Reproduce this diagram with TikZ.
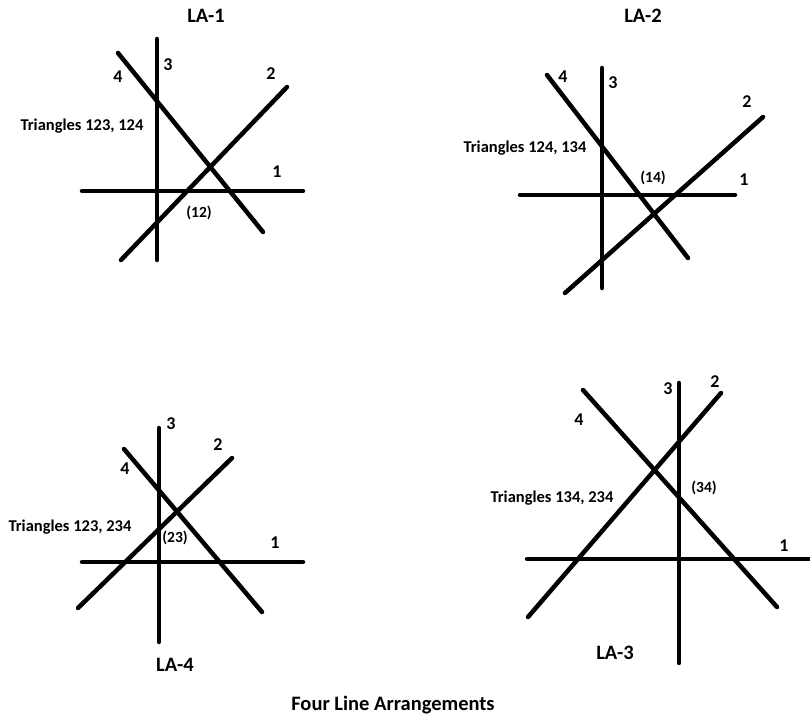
\documentclass[tikz,border=0pt]{standalone}
\usepackage{fontspec}
\setmainfont{Carlito}
\begin{document}
\begin{tikzpicture}[x=1pt,y=-1pt,
  ln/.style={line width=4.5pt,line cap=round},
  num/.style={font=\fontsize{18}{20}\selectfont\bfseries,inner sep=0pt},
  tri/.style={font=\fontsize{16.5}{18}\selectfont\bfseries,inner sep=0pt},
  pt/.style={font=\fontsize{15.5}{17}\selectfont\bfseries,inner sep=0pt},
  ttl/.style={font=\fontsize{20.5}{22}\selectfont\bfseries,inner sep=0pt}]
\useasboundingbox (0,0) rectangle (810,720);
% ---------- LA-1 ----------
\node[ttl] (t1) at (206,16) {LA-1};
\coordinate (a3s) at (157,39); \coordinate (a3e) at (157,260);
\coordinate (a4s) at (118,53); \coordinate (a4e) at (263,232);
\coordinate (a2s) at (121,260); \coordinate (a2e) at (287,87);
\coordinate (a1s) at (82,191); \coordinate (a1e) at (303,191);
\draw[ln] (a3s) -- (a3e);
\draw[ln] (a4s) -- (a4e);
\draw[ln] (a2s) -- (a2e);
\draw[ln] (a1s) -- (a1e);
\node[num] (a3l) at (168,65) {3};
\node[num] (a4l) at (118,77) {4};
\node[num] (a2l) at (271,74) {2};
\node[num] (a1l) at (277,172) {1};
\node[tri] (atri) at (82,126) {Triangles 123, 124};
\node[pt] (apt) at (199,213) {(12)};
% ---------- LA-2 ----------
\node[ttl] (t2) at (643,16) {LA-2};
\coordinate (b3s) at (602,68); \coordinate (b3e) at (602,288);
\coordinate (b4s) at (547,75); \coordinate (b4e) at (688,258);
\coordinate (b2s) at (565,293); \coordinate (b2e) at (763,117);
\coordinate (b1s) at (520,195); \coordinate (b1e) at (735,195);
\draw[ln] (b3s) -- (b3e);
\draw[ln] (b4s) -- (b4e);
\draw[ln] (b2s) -- (b2e);
\draw[ln] (b1s) -- (b1e);
\node[num] (b4l) at (563,77) {4};
\node[num] (b3l) at (613,83) {3};
\node[num] (b2l) at (747,102) {2};
\node[num] (b1l) at (744,180) {1};
\node[tri] (btri) at (525,148) {Triangles 124, 134};
\node[pt] (bpt) at (653,178) {(14)};
% ---------- LA-4 ----------
\coordinate (d3s) at (159,428); \coordinate (d3e) at (159,642);
\coordinate (d4s) at (124,449); \coordinate (d4e) at (262,612);
\coordinate (d2s) at (78,608); \coordinate (d2e) at (232,458);
\coordinate (d1s) at (82,562); \coordinate (d1e) at (303,562);
\draw[ln] (d3s) -- (d3e);
\draw[ln] (d4s) -- (d4e);
\draw[ln] (d2s) -- (d2e);
\draw[ln] (d1s) -- (d1e);
\node[num] (d3l) at (171,424) {3};
\node[num] (d2l) at (218,445) {2};
\node[num] (d4l) at (125,469) {4};
\node[num] (d1l) at (275,543) {1};
\node[tri] (dtri) at (70,527) {Triangles 123, 234};
\node[pt] (dpt) at (175,538) {(23)};
\node[ttl] (t4) at (175,665) {LA-4};
% ---------- LA-3 ----------
\coordinate (c3s) at (679,383); \coordinate (c3e) at (679,663);
\coordinate (c4s) at (583,390); \coordinate (c4e) at (777,607);
\coordinate (c2s) at (528,617); \coordinate (c2e) at (721,393);
\coordinate (c1s) at (527,559); \coordinate (c1e) at (810,559);
\draw[ln] (c3s) -- (c3e);
\draw[ln] (c4s) -- (c4e);
\draw[ln] (c2s) -- (c2e);
\draw[ln] (c1s) -- (c1e);
\node[num] (c3l) at (668,389) {3};
\node[num] (c2l) at (715,382) {2};
\node[num] (c4l) at (579,420) {4};
\node[num] (c1l) at (784,546) {1};
\node[tri] (ctri) at (552,498) {Triangles 134, 234};
\node[pt] (cpt) at (704,488) {(34)};
\node[ttl] (t3) at (615,653) {LA-3};
% ---------- caption ----------
\node[ttl] (cap) at (393,705) {Four Line Arrangements};
\end{tikzpicture}
\end{document}
